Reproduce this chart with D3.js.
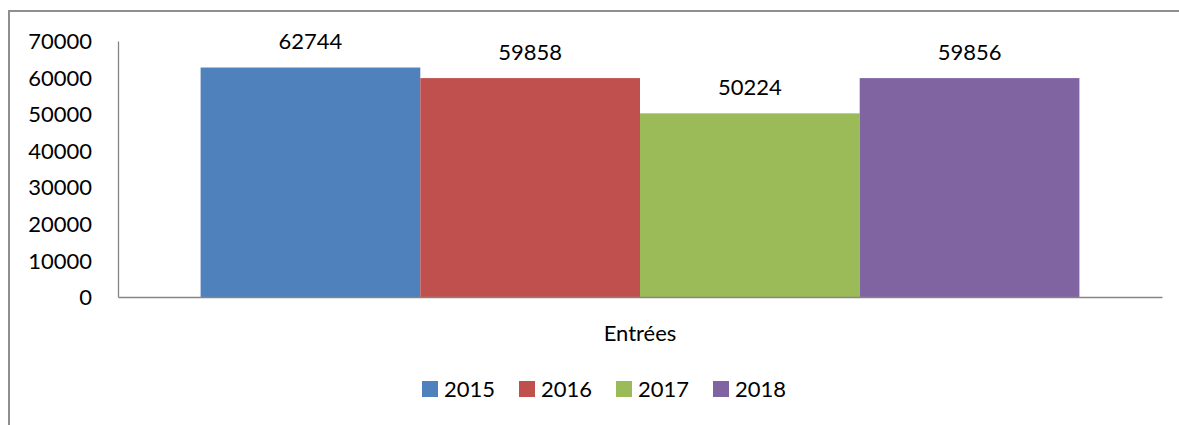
<!DOCTYPE html>
<html><head><meta http-equiv="Content-Type" content="text/html; charset=UTF-8"><style>
body { margin: 0; background: #fff; }
svg { display: block; font-family: Lato, "Open Sans", sans-serif; }
.axis .domain { stroke: #868686; stroke-width: 1.3; }
.axis text { font-family: Lato, "Open Sans", sans-serif; font-size: 22px; fill: #000; }
</style>
</head>
<body>
<svg width="1179" height="425"></svg>
<script src="https://cdn.jsdelivr.net/npm/d3@7"></script>
<script>

var categories = ["Entrées"];
var years = ["2015", "2016", "2017", "2018"];
var values = [62744, 59858, 50224, 59856];
var yTicks = [0, 10000, 20000, 30000, 40000, 50000, 60000, 70000];
var colors = ["#4F81BD", "#C0504D", "#9BBB59", "#8064A2"];

var svg = d3.select("svg"),
    margin = {top: 41, right: 17, bottom: 128, left: 118},
    width = +svg.attr("width") - margin.left - margin.right,
    height = +svg.attr("height") - margin.top - margin.bottom;

// chart frame (right and bottom edges fall outside the picture)
svg.append("rect")
    .attr("x", 9)
    .attr("y", 11)
    .attr("width", 1300)
    .attr("height", 600)
    .attr("fill", "none")
    .attr("stroke", "#8f8f8f")
    .attr("stroke-width", 2);

var g = svg.append("g").attr("transform", "translate(" + margin.left + "," + margin.top + ")");

var x0 = d3.scaleBand()
    .domain(categories)
    .range([0, width])
    .paddingInner(0)
    .paddingOuter(0.094);

var x1 = d3.scaleBand()
    .domain(years)
    .range([0, x0.bandwidth()]);

var y = d3.scaleLinear()
    .domain([0, 70000])
    .range([height, 0]);

var z = d3.scaleOrdinal().domain(years).range(colors);

var data = years.map(function(d, i) { return {year: d, value: values[i]}; });

var bars = g.append("g")
    .attr("transform", "translate(" + x0(categories[0]) + ",0)");

bars.selectAll("rect")
  .data(data)
  .enter().append("rect")
    .attr("x", function(d) { return x1(d.year); })
    .attr("y", function(d) { return y(d.value); })
    .attr("width", x1.bandwidth())
    .attr("height", function(d) { return height - y(d.value); })
    .attr("fill", function(d) { return z(d.year); });

bars.selectAll("text")
  .data(data)
  .enter().append("text")
    .attr("x", function(d) { return x1(d.year) + x1.bandwidth() / 2; })
    .attr("y", function(d) { return y(d.value) - 26; })
    .attr("dy", "0.35em")
    .attr("text-anchor", "middle")
    .attr("font-size", 22)
    .text(function(d) { return d.value; });

g.append("g")
    .attr("class", "axis")
    .call(d3.axisLeft(y).tickValues(yTicks).tickSize(0).tickPadding(26).tickFormat(d3.format("d")))
  .selectAll("text")
    .attr("dy", "0.35em");

g.append("g")
    .attr("class", "axis")
    .attr("transform", "translate(0," + height + ")")
    .call(d3.axisBottom(x0).tickSize(0).tickPadding(36).tickSizeOuter(0))
  .selectAll("text")
    .attr("dy", "0.35em");

// legend
var legend = svg.append("g")
    .attr("font-size", 22)
  .selectAll("g")
  .data(years)
  .enter().append("g")
    .attr("transform", function(d, i) { return "translate(" + (422 + i * 97) + ",389)"; });

legend.append("rect")
    .attr("x", 0)
    .attr("y", -8)
    .attr("width", 16)
    .attr("height", 16)
    .attr("fill", z);

legend.append("text")
    .attr("x", 22)
    .attr("dy", "0.35em")
    .text(function(d) { return d; });

</script>
</body></html>
